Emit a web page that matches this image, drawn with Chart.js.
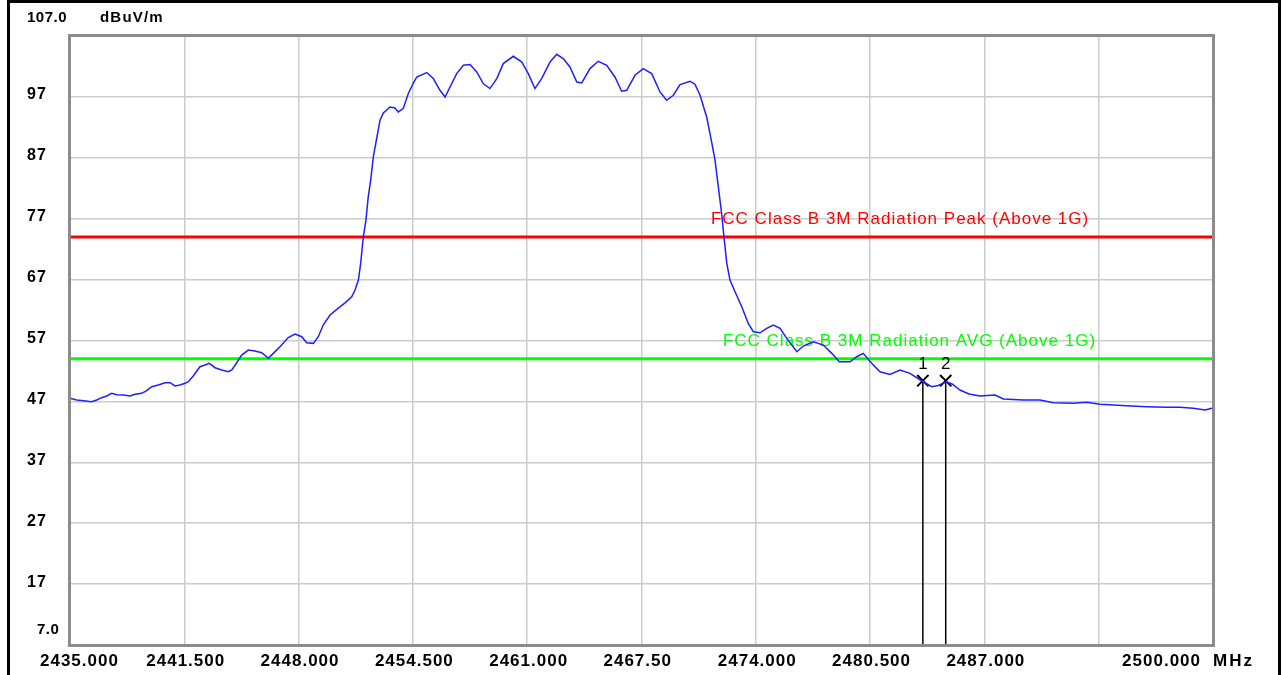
<!DOCTYPE html>
<html lang="en">
<head>
<meta charset="UTF-8">
<title>Radiated Emission Band Edge</title>
<script src="https://cdn.jsdelivr.net/npm/chart.js"></script>
<style>
  body { margin: 0; background: #fff; }
  canvas { display: block; }
</style>
</head>
<body>
<canvas id="chart" width="1283" height="675"></canvas>

<script>
  // 频率 (MHz) 和 测量值 (dBuV/m)
  const freqMHz = [
    2435.00, 2435.38, 2435.76, 2436.23, 2436.52, 2436.80, 2437.09, 2437.37, 2437.66, 2438.03,
    2438.41, 2438.70, 2439.08, 2439.36, 2439.65, 2440.02, 2440.40, 2440.69, 2440.97, 2441.26,
    2441.54, 2441.73, 2442.01, 2442.39, 2442.68, 2442.92, 2443.25, 2443.63, 2444.00, 2444.20,
    2444.48, 2444.76, 2445.14, 2445.52, 2445.90, 2446.28, 2446.56, 2446.94, 2447.41, 2447.80,
    2448.18, 2448.46, 2448.84, 2449.12, 2449.40, 2449.79, 2450.17, 2450.64, 2451.02, 2451.21,
    2451.40, 2451.53, 2451.68, 2451.83, 2451.96, 2452.10, 2452.25, 2452.44, 2452.63, 2452.82,
    2453.20, 2453.48, 2453.67, 2453.95, 2454.24, 2454.52, 2454.72, 2455.29, 2455.66, 2456.04,
    2456.33, 2456.61, 2456.99, 2457.37, 2457.75, 2458.13, 2458.50, 2458.88, 2459.27, 2459.64,
    2460.21, 2460.69, 2461.06, 2461.44, 2461.82, 2462.30, 2462.68, 2463.05, 2463.43, 2463.82,
    2464.10, 2464.57, 2465.04, 2465.52, 2465.99, 2466.37, 2466.66, 2467.13, 2467.60, 2468.08,
    2468.55, 2468.93, 2469.31, 2469.69, 2470.26, 2470.54, 2470.83, 2471.21, 2471.49, 2471.68,
    2471.87, 2472.06, 2472.19, 2472.35, 2472.53, 2472.82, 2473.20, 2473.57, 2473.86, 2474.24,
    2474.62, 2475.00, 2475.38, 2475.76, 2476.33, 2476.70, 2477.27, 2477.84, 2478.32, 2478.75,
    2479.36, 2479.74, 2480.11, 2480.59, 2481.06, 2481.63, 2482.20, 2482.77, 2483.44, 2484.00,
    2484.38, 2484.82, 2485.16, 2485.61, 2486.12, 2486.75, 2487.60, 2488.08, 2489.21, 2490.16,
    2490.92, 2492.06, 2492.82, 2493.57, 2495.09, 2496.23, 2497.37, 2498.12, 2498.88, 2499.55,
    2500.00
  ];
  const levelDb = [
    47.51, 47.23, 47.12, 46.95, 47.23, 47.61, 47.89, 48.33, 48.10, 48.05,
    47.89, 48.16, 48.33, 48.76, 49.41, 49.69, 50.07, 50.07, 49.53, 49.69,
    49.97, 50.23, 51.17, 52.69, 52.97, 53.25, 52.53, 52.15, 51.87, 52.15,
    53.35, 54.61, 55.43, 55.27, 54.99, 54.07, 54.89, 55.97, 57.48, 58.06,
    57.62, 56.63, 56.53, 57.62, 59.54, 61.18, 62.11, 63.19, 64.18, 65.28,
    66.92, 69.66, 74.02, 76.76, 80.59, 83.33, 87.15, 90.17, 93.17, 94.37,
    95.35, 95.19, 94.53, 95.09, 97.55, 99.24, 100.27, 101.00, 100.01, 98.09,
    96.99, 98.63, 100.83, 102.19, 102.31, 101.09, 99.19, 98.37, 100.01, 102.47,
    103.67, 102.73, 100.83, 98.37, 100.01, 102.73, 104.00, 103.29, 101.91, 99.45,
    99.29, 101.65, 102.85, 102.19, 100.27, 97.93, 98.09, 100.55, 101.65, 100.83,
    97.81, 96.45, 97.27, 99.03, 99.57, 99.08, 97.27, 93.66, 89.56, 86.61,
    82.23, 77.75, 74.02, 69.66, 66.92, 65.00, 62.54, 59.81, 58.44, 58.27,
    58.99, 59.54, 58.99, 57.35, 55.15, 56.09, 56.80, 56.25, 54.89, 53.51,
    53.51, 54.33, 54.89, 53.25, 51.87, 51.41, 52.15, 51.61, 50.35, 49.41,
    49.61, 50.23, 49.86, 48.87, 48.21, 47.89, 48.05, 47.39, 47.23, 47.23,
    46.79, 46.69, 46.85, 46.52, 46.29, 46.13, 46.03, 46.03, 45.87, 45.59,
    45.92
  ];

  // 限值线
  const limitLevels = [74, 54];
  const limitNames = ['FCC Class B 3M Radiation Peak (Above 1G)', 'FCC Class B 3M Radiation AVG (Above 1G)'];
  const limitColors = ['#ff0000', '#00ff00'];

  // 标记点
  const markerNames = ['1', '2'];
  const markerFreq = [2483.5, 2484.8];
  const markerLevel = [50.4, 50.4];

  // 坐标轴刻度
  const xTicks = [2435, 2441.5, 2448, 2454.5, 2461, 2467.5, 2474, 2480.5, 2487, 2493.5, 2500];
  const xTickLabels = ['2435.000', '2441.500', '2448.000', '2454.500', '2461.000', '2467.50',
                       '2474.000', '2480.500', '2487.000', '', '2500.000'];
  const yTicks = [7, 17, 27, 37, 47, 57, 67, 77, 87, 97, 107];
  const yTickLabels = ['7.0', '17', '27', '37', '47', '57', '67', '77', '87', '97', '107.0'];

  const FONT = '"Liberation Sans", Arial, sans-serif';

  function text(ctx, str, x, y, font, color, align, spacing) {
    ctx.save();
    ctx.font = font;
    ctx.fillStyle = color;
    ctx.textAlign = align || 'left';
    ctx.textBaseline = 'middle';
    ctx.letterSpacing = (spacing || 0) + 'px';
    ctx.fillText(str, x, y);
    ctx.restore();
  }

  const decor = {
    id: 'decor',
    beforeDatasetsDraw(chart) {
      const ctx = chart.ctx, x = chart.scales.x, y = chart.scales.y;
      // 限值线标签
      const starts = [2471.45, 2472.13];
      limitLevels.forEach((lv, i) => {
        ctx.save();
        ctx.font = '17px ' + FONT;
        ctx.letterSpacing = '1px';
        ctx.fillStyle = limitColors[i];
        ctx.textBaseline = 'alphabetic';
        ctx.fillText(limitNames[i], x.getPixelForValue(starts[i]), y.getPixelForValue(lv) - 13);
        ctx.restore();
      });
    },
    afterDraw(chart) {
      const ctx = chart.ctx, x = chart.scales.x, y = chart.scales.y;
      const a = chart.chartArea;

      // 绘图区边框
      ctx.save();
      ctx.strokeStyle = '#8c8c8c';
      ctx.lineWidth = 3;
      ctx.strokeRect(a.left - 0.5, a.top - 0.5, a.right - a.left + 1, a.bottom - a.top + 1);
      ctx.restore();

      // 外框
      ctx.save();
      ctx.strokeStyle = '#000';
      ctx.lineWidth = 3;
      ctx.beginPath();
      ctx.moveTo(8.5, 680); ctx.lineTo(8.5, 1.5); ctx.lineTo(1279.5, 1.5); ctx.lineTo(1279.5, 680);
      ctx.stroke();
      ctx.restore();

      // Y 轴标签
      yTickLabels.forEach((lab, i) => {
        const py = y.getPixelForValue(yTicks[i]);
        if (i === 0) {
          text(ctx, lab, 37, py - 15, 'bold 15px ' + FONT, '#000', 'left', 0.5);
        } else if (i === yTicks.length - 1) {
          text(ctx, lab, 27, 18, 'bold 15px ' + FONT, '#000', 'left', 0.5);
        } else {
          text(ctx, lab, 27, py - 2, 'bold 16px ' + FONT, '#000', 'left', 1);
        }
      });
      text(ctx, 'dBuV/m', 100, 18, 'bold 15px ' + FONT, '#000', 'left', 1.2);

      // X 轴标签
      xTickLabels.forEach((lab, i) => {
        if (!lab) return;
        const px = x.getPixelForValue(xTicks[i]);
        if (i === xTicks.length - 1) {
          text(ctx, lab, px - 12, 661, 'bold 17px ' + FONT, '#000', 'right', 1);
        } else {
          text(ctx, lab, Math.max(40, px - 38), 661, 'bold 17px ' + FONT, '#000', 'left', 1);
        }
      });
      text(ctx, 'MHz', a.right, 661, 'bold 17px ' + FONT, '#000', 'left', 2);

      // 标记编号
      markerNames.forEach((m, i) => {
        text(ctx, m, x.getPixelForValue(markerFreq[i]), y.getPixelForValue(markerLevel[i]) - 16,
             '17px ' + FONT, '#000', 'center', 0);
      });
    }
  };

  const datasets = [{
    label: 'Trace',
    data: freqMHz.map((f, i) => ({ x: f, y: levelDb[i] })),
    borderColor: '#1f1fff',
    borderWidth: 1.5,
    pointRadius: 0,
    tension: 0
  }, {
    label: 'Markers',
    data: markerFreq.map((f, i) => ({ x: f, y: markerLevel[i] })),
    showLine: false,
    pointStyle: 'crossRot',
    pointRadius: 8,
    borderColor: '#000',
    borderWidth: 2
  }];

  markerFreq.forEach((f, i) => {
    datasets.push({
      label: 'M' + markerNames[i],
      data: [{ x: f, y: 7 }, { x: f, y: markerLevel[i] }],
      borderColor: '#000',
      borderWidth: 1.5,
      pointRadius: 0
    });
  });

  limitLevels.forEach((lv, i) => {
    datasets.push({
      label: limitNames[i],
      data: [{ x: 2435, y: lv }, { x: 2500, y: lv }],
      borderColor: limitColors[i],
      borderWidth: 3,
      pointRadius: 0
    });
  });

  new Chart(document.getElementById('chart'), {
    type: 'line',
    data: { datasets },
    options: {
      responsive: false,
      animation: false,
      layout: { padding: { left: 70, top: 36, right: 70, bottom: 30 } },
      plugins: { legend: { display: false }, tooltip: { enabled: false } },
      scales: {
        x: {
          type: 'linear', min: 2435, max: 2500,
          afterBuildTicks: s => { s.ticks = xTicks.map(v => ({ value: v })); },
          ticks: { display: false },
          grid: { color: '#cccccc', lineWidth: 1.5, drawTicks: false },
          border: { display: false }
        },
        y: {
          min: 7, max: 107,
          afterBuildTicks: s => { s.ticks = yTicks.map(v => ({ value: v })); },
          ticks: { display: false },
          grid: { color: '#cccccc', lineWidth: 1.5, drawTicks: false },
          border: { display: false }
        }
      }
    },
    plugins: [decor]
  });
</script>
</body>
</html>
